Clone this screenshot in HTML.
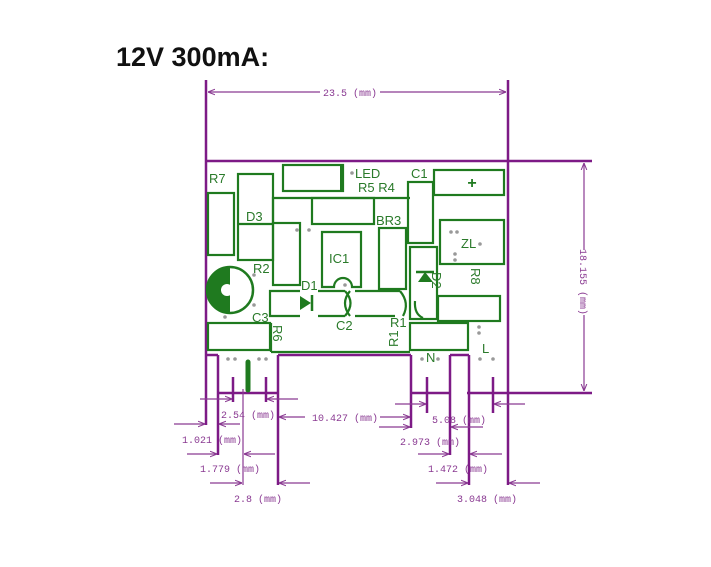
<!DOCTYPE html>
<html><head><meta charset="utf-8"><style>
html,body{margin:0;padding:0;background:#fff}
svg{display:block}
</style></head><body>
<svg width="711" height="567" viewBox="0 0 711 567" xmlns="http://www.w3.org/2000/svg" font-family="Liberation Sans, sans-serif">
<defs>
<marker id="a" viewBox="0 0 10 10" refX="10" refY="5" markerWidth="7" markerHeight="7" orient="auto" markerUnits="userSpaceOnUse">
<path d="M0,1 L10,5 L0,9" fill="none" stroke="#8a3a92" stroke-width="1.5"/>
</marker>
</defs>
<text x="116" y="66" font-size="27" font-weight="bold" fill="#111">12V 300mA:</text>

<g stroke="#7d1a86" fill="none" stroke-width="2.5">
  <line x1="206" y1="80" x2="206" y2="425"/>
  <line x1="508" y1="80" x2="508" y2="485"/>
  <line x1="206" y1="161" x2="592" y2="161"/>
  <line x1="467" y1="393" x2="592" y2="393"/>
  <line x1="206" y1="355" x2="218" y2="355"/>
  <line x1="218" y1="355" x2="218" y2="455"/>
  <line x1="218" y1="393" x2="278" y2="393"/>
  <line x1="278" y1="355" x2="278" y2="485"/>
  <line x1="278" y1="355" x2="411" y2="355"/>
  <line x1="411" y1="355" x2="411" y2="428"/>
  <line x1="411" y1="393" x2="450" y2="393"/>
  <line x1="450" y1="355" x2="450" y2="455"/>
  <line x1="450" y1="355" x2="469" y2="355"/>
  <line x1="469" y1="355" x2="469" y2="485"/>
  <line x1="233" y1="377" x2="233" y2="402"/>
  <line x1="266" y1="377" x2="266" y2="402"/>
  <line x1="427" y1="377" x2="427" y2="413"/>
  <line x1="493" y1="377" x2="493" y2="413"/>
</g>
<g stroke="#8a3a92" fill="none" stroke-width="1.2">
  <line x1="243" y1="389" x2="243" y2="485"/>
</g>
<g stroke="#8a3a92" fill="none" stroke-width="1.2" marker-end="url(#a)">
  <line x1="320" y1="92" x2="208" y2="92"/>
  <line x1="380" y1="92" x2="506" y2="92"/>
  <line x1="584" y1="250" x2="584" y2="163"/>
  <line x1="584" y1="315" x2="584" y2="391"/>
  <line x1="200" y1="399" x2="232" y2="399"/>
  <line x1="298" y1="399" x2="267" y2="399"/>
  <line x1="174" y1="424" x2="205" y2="424"/>
  <line x1="240" y1="424" x2="219" y2="424"/>
  <line x1="187" y1="454" x2="217" y2="454"/>
  <line x1="275" y1="454" x2="244" y2="454"/>
  <line x1="210" y1="483" x2="242" y2="483"/>
  <line x1="310" y1="483" x2="279" y2="483"/>
  <line x1="305" y1="417" x2="279" y2="417"/>
  <line x1="380" y1="417" x2="410" y2="417"/>
  <line x1="395" y1="404" x2="426" y2="404"/>
  <line x1="525" y1="404" x2="494" y2="404"/>
  <line x1="379" y1="427" x2="410" y2="427"/>
  <line x1="483" y1="427" x2="451" y2="427"/>
  <line x1="418" y1="454" x2="449" y2="454"/>
  <line x1="502" y1="454" x2="470" y2="454"/>
  <line x1="436" y1="483" x2="468" y2="483"/>
  <line x1="540" y1="483" x2="509" y2="483"/>
</g>
<g fill="#8a3a92" font-family="Liberation Mono, monospace" font-size="10">
  <text x="323" y="96">23.5 (mm)</text>
  <text x="221" y="418">2.54 (mm)</text>
  <text x="312" y="421">10.427 (mm)</text>
  <text x="182" y="443">1.021 (mm)</text>
  <text x="200" y="472">1.779 (mm)</text>
  <text x="234" y="502">2.8 (mm)</text>
  <text x="432" y="423">5.08 (mm)</text>
  <text x="400" y="445">2.973 (mm)</text>
  <text x="428" y="472">1.472 (mm)</text>
  <text x="457" y="502">3.048 (mm)</text>
  <text transform="translate(580,282) rotate(90)" text-anchor="middle">18.155 (mm)</text>
</g>

<g stroke="#1f7a1f" fill="none" stroke-width="2.2">
  <rect x="283" y="165" width="60" height="26"/>
  <rect x="208" y="193" width="26" height="62"/>
  <rect x="238" y="174" width="35" height="86"/>
  <line x1="238" y1="224" x2="273" y2="224"/>
  <polyline points="273,224 273,198 410,198"/>
  <rect x="312" y="198" width="62" height="26"/>
  <rect x="273" y="223" width="27" height="62"/>
  <path d="M322,287 V232 H361 V287 H352 A9,9 0 0 0 334,287 Z"/>
  <rect x="379" y="228" width="27" height="61"/>
  <rect x="408" y="182" width="25" height="61"/>
  <rect x="434" y="170" width="70" height="25"/>
  <rect x="440" y="220" width="64" height="44"/>
  <rect x="410" y="247" width="27" height="72"/>
  <rect x="438" y="296" width="62" height="25"/>
  <rect x="410" y="323" width="58" height="27"/>
  <rect x="208" y="323" width="62" height="27"/>
  <line x1="271" y1="352" x2="410" y2="352"/>
  <line x1="271" y1="323" x2="271" y2="352"/>
  <polyline points="300,291 270,291 270,316 300,316"/>
  <line x1="318" y1="291" x2="345" y2="291"/>
  <line x1="318" y1="316" x2="345" y2="316"/>
  <path d="M345,291 Q356,303 345,316"/>
  <path d="M350,291 Q340,303 350,316"/>
  <line x1="355" y1="291" x2="400" y2="291"/>
  <line x1="355" y1="316" x2="395" y2="316"/>
  <path d="M400,291 Q410,303 403,316"/>
  <path d="M415,301 Q414,314 423,318"/>
</g>
<path d="M300,296 L311,303 L300,310 Z" fill="#1f7a1f"/>
<line x1="312" y1="295" x2="312" y2="311" stroke="#1f7a1f" stroke-width="2.5"/>
<path d="M418,282 L433,282 L425,272 Z" fill="#1f7a1f"/>
<line x1="416" y1="272" x2="434" y2="272" stroke="#1f7a1f" stroke-width="2.5"/>
<line x1="342" y1="165" x2="342" y2="191" stroke="#1f7a1f" stroke-width="4"/>
<line x1="248" y1="362" x2="248" y2="390" stroke="#1f7a1f" stroke-width="5" stroke-linecap="round"/>
<circle cx="230" cy="290" r="23" fill="#fff" stroke="#1f7a1f" stroke-width="2.5"/>
<path d="M230,267 A23,23 0 0 0 230,313 Z" fill="#1f7a1f"/>
<circle cx="227" cy="290" r="6" fill="#fff"/>
<text x="472" y="188" font-size="16" font-weight="bold" fill="#1f7a1f" text-anchor="middle">+</text>

<g fill="#2a7a2a" font-size="13">
  <text x="209" y="183">R7</text>
  <text x="355" y="178">LED</text>
  <text x="411" y="178">C1</text>
  <text x="358" y="192">R5 R4</text>
  <text x="246" y="221">D3</text>
  <text x="376" y="225">BR3</text>
  <text x="329" y="263">IC1</text>
  <text x="461" y="248">ZL</text>
  <text x="253" y="273">R2</text>
  <text x="301" y="290">D1</text>
  <text x="252" y="322">C3</text>
  <text x="336" y="330">C2</text>
  <text x="390" y="327">R1</text>
  <text x="482" y="353">L</text>
  <text x="426" y="362">N</text>
  <text transform="translate(471,268) rotate(90)">R8</text>
  <text transform="translate(432,272) rotate(90)">D2</text>
  <text transform="translate(273,325) rotate(90)">R6</text>
  <text transform="translate(398,347) rotate(-90)">R1</text>
</g>
<g fill="#999">
  <circle cx="297" cy="230" r="1.8"/><circle cx="309" cy="230" r="1.8"/>
  <circle cx="352" cy="173" r="1.8"/><circle cx="345" cy="285" r="1.8"/>
  <circle cx="451" cy="232" r="1.8"/><circle cx="457" cy="232" r="1.8"/>
  <circle cx="455" cy="254" r="1.8"/><circle cx="455" cy="260" r="1.8"/>
  <circle cx="480" cy="244" r="1.8"/><circle cx="225" cy="317" r="1.8"/>
  <circle cx="254" cy="275" r="1.8"/><circle cx="254" cy="305" r="1.8"/>
  <circle cx="228" cy="359" r="1.8"/><circle cx="235" cy="359" r="1.8"/>
  <circle cx="259" cy="359" r="1.8"/><circle cx="266" cy="359" r="1.8"/>
  <circle cx="422" cy="359" r="1.8"/><circle cx="438" cy="359" r="1.8"/>
  <circle cx="480" cy="359" r="1.8"/><circle cx="493" cy="359" r="1.8"/>
  <circle cx="479" cy="327" r="1.8"/><circle cx="479" cy="333" r="1.8"/>
</g>
</svg>
</body></html>
